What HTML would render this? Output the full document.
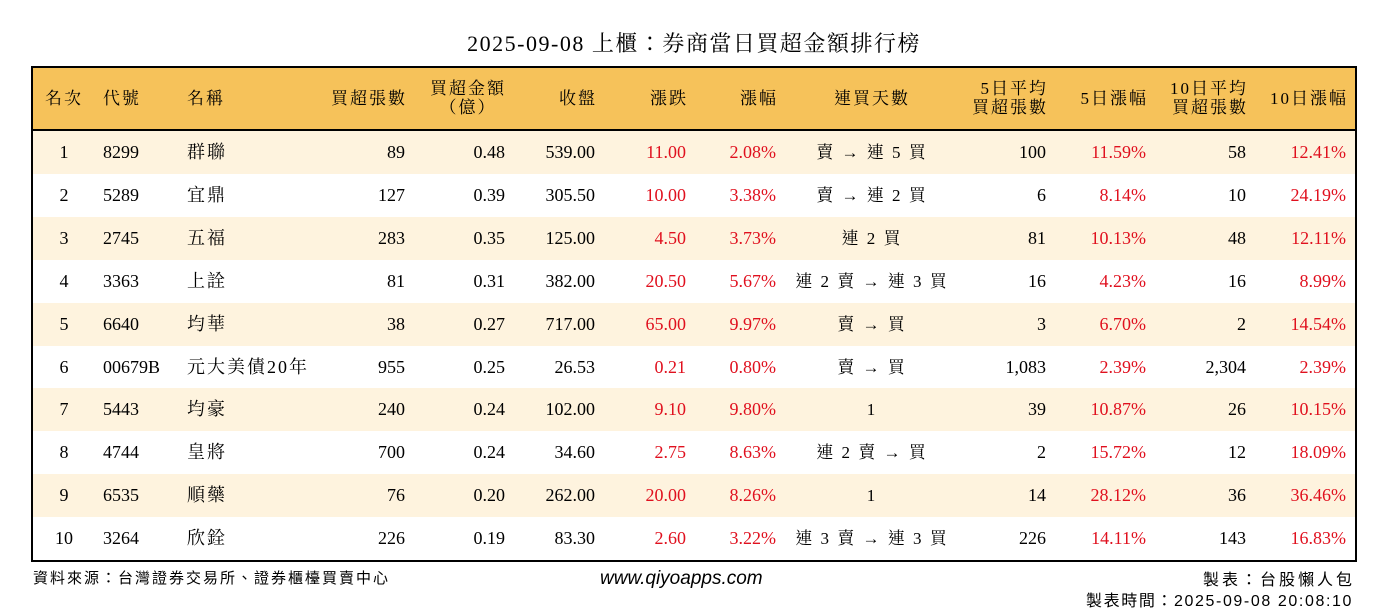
<!DOCTYPE html>
<html><head><meta charset="utf-8"><style>
body{margin:0;width:1388px;height:612px;background:#fff;position:relative;overflow:hidden;font-family:"Liberation Serif","Noto Serif CJK TC","Noto Serif CJK SC",serif;color:#000}
.t{position:absolute;white-space:nowrap}
#title{left:0;width:1388px;top:27px;text-align:center;font-size:22px;letter-spacing:1.5px}
#tbl{position:absolute;left:31px;top:66px;width:1322px;height:492px;border:2px solid #000}
#hdr{position:absolute;left:0;top:0;width:1322px;height:61px;background:#F6C25A;border-bottom:2px solid #000}
.row{position:absolute;left:0;width:1322px;height:43px}
.c{position:absolute;top:0;line-height:43px;font-size:18px;white-space:nowrap}
.h{position:absolute;font-size:17px;line-height:19px;white-space:nowrap;letter-spacing:2px}
.r{color:#E0101E}
.f{font-family:'Liberation Sans','Noto Sans CJK TC',sans-serif}
</style></head><body>
<div class="t" id="title">2025-09-08 上櫃：券商當日買超金額排行榜</div>
<div id="tbl">
<div id="hdr"></div>
</div>
<div class="t f" style="left:33px;top:567px;font-size:15px;letter-spacing:2px">資料來源：台灣證券交易所、證券櫃檯買賣中心</div>
<div class="t" style="left:600px;top:568px;font-size:19px;font-style:italic;font-family:'Liberation Sans',sans-serif">www.qiyoapps.com</div>
<div class="t f" style="right:33px;top:566px;font-size:16px;letter-spacing:3px">製表：台股懶人包</div>
<div class="t f" style="right:35px;top:587px;font-size:16px;letter-spacing:1.6px">製表時間：2025-09-08 20:08:10</div>
<script>
const ranks=[1,2,3,4,5,6,7,8,9,10];
const codes=["8299","5289","2745","3363","6640","00679B","5443","4744","6535","3264"];
const names=["群聯","宜鼎","五福","上詮","均華","元大美債20年","均豪","皇將","順藥","欣銓"];
const lots=["89","127","283","81","38","955","240","700","76","226"];
const amounts=["0.48","0.39","0.35","0.31","0.27","0.25","0.24","0.24","0.20","0.19"];
const closes=["539.00","305.50","125.00","382.00","717.00","26.53","102.00","34.60","262.00","83.30"];
const changes=["11.00","10.00","4.50","20.50","65.00","0.21","9.10","2.75","20.00","2.60"];
const pcts=["2.08%","3.38%","3.73%","5.67%","9.97%","0.80%","9.80%","8.63%","8.26%","3.22%"];
const streaks=["賣 → 連 5 買","賣 → 連 2 買","連 2 買","連 2 賣 → 連 3 買","賣 → 買","賣 → 買","1","連 2 賣 → 買","1","連 3 賣 → 連 3 買"];
const avg5=["100","6","81","16","3","1,083","39","2","14","226"];
const pct5=["11.59%","8.14%","10.13%","4.23%","6.70%","2.39%","10.87%","15.72%","28.12%","14.11%"];
const avg10=["58","10","48","16","2","2,304","26","12","36","143"];
const pct10=["12.41%","24.19%","12.11%","8.99%","14.54%","2.39%","10.15%","18.09%","36.46%","16.83%"];
const tbl=document.getElementById('tbl');
const cols=[
 [31,'c',ranks,false,'rank'],[70,'l',codes,false,'code'],[154,'l',names,false,'name'],
 [372,'r',lots,false,'net-lots'],[472,'r',amounts,false,'net-amount'],[562,'r',closes,false,'close'],
 [653,'r',changes,true,'change'],[743,'r',pcts,true,'change-pct'],[839,'c',streaks,false,'streak'],
 [1013,'r',avg5,false,'avg5-lots'],[1113,'r',pct5,true,'pct5'],[1213,'r',avg10,false,'avg10-lots'],[1313,'r',pct10,true,'pct10']];
function place(el,x,al){
 if(al==='l'){el.style.left=x+'px';}
 else if(al==='r'){el.style.right=(1322-x)+'px';}
 else{el.style.left=(x-150)+'px';el.style.width='300px';el.style.textAlign='center';}
}
ranks.forEach((_,i)=>{
 const row=document.createElement('div');
 row.className='row';
 row.style.top=(63+i*42.9)+'px';
 row.style.background=i%2===0?'#FEF3DE':'#fff';
 
 
 cols.forEach(c=>{
  const d=document.createElement('div');
  d.className='c'+(c[3]?' r':'');
  d.textContent=c[2][i];
  if(c[4]==='name'){d.style.fontSize='18px';d.style.letterSpacing='2px';}
  if(c[4]==='streak'){d.style.fontSize='17px';d.style.letterSpacing='2px';}
  place(d,c[0],c[1]);
  
  
  row.appendChild(d);
 });
 tbl.appendChild(row);
});
const hdr=document.getElementById('hdr');
const heads=[[31,'c',['名次']],[70,'l',['代號']],[154,'l',['名稱']],[374,'r',['買超張數']],[435,'c',['買超金額','（億）']],
 [564,'r',['收盤']],[655,'r',['漲跌']],[745,'r',['漲幅']],[839,'c',['連買天數']],[1015,'r',['5日平均','買超張數']],
 [1115,'r',['5日漲幅']],[1215,'r',['10日平均','買超張數']],[1315,'r',['10日漲幅']]];
heads.forEach(h=>{
 const d=document.createElement('div');
 d.className='h';
 d.innerHTML=h[2].join('<br>');
 d.style.top=(h[2].length>1?11:21)+'px';
 d.style.textAlign=h[1]==='r'?'right':(h[1]==='c'?'center':'left');
 place(d,h[0],h[1]);
 
 
 hdr.appendChild(d);
});
</script>
</body></html>
